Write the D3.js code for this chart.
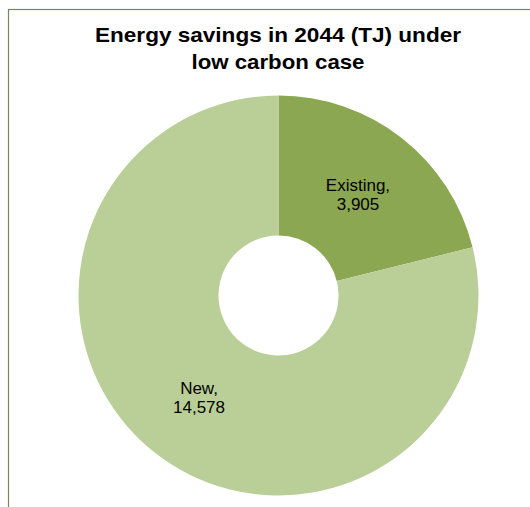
<!DOCTYPE html>
<html>
<head>
<meta charset="utf-8">
<script src="https://cdn.jsdelivr.net/npm/d3@7"></script>
<style>
  html, body { margin: 0; padding: 0; background: #fff; }
  svg { display: block; }
</style>
</head>
<body>
<svg id="chart" width="530" height="507"></svg>
<script>
// Energy savings in 2044 (TJ) under the low carbon case
const categories = ["Existing", "New"];
const values = [3905, 14578];
const colors = ["#8ca751", "#bacf97"];
const titleLines = ["Energy savings in 2044 (TJ) under", "low carbon case"];

const svg = d3.select("#chart");

// chart area frame
svg.append("rect")
  .attr("x", 8.5).attr("y", 9.5)
  .attr("width", 540).attr("height", 520)
  .attr("fill", "#fff")
  .attr("stroke", "#77875a")
  .attr("stroke-width", 1.2);

// title
const titleWidths = [366, 173];
const title = svg.append("text")
  .attr("text-anchor", "middle")
  .attr("font-family", "Liberation Sans, Arial, sans-serif")
  .attr("font-weight", "bold")
  .attr("font-size", 20.5)
  .attr("fill", "#000");
titleLines.forEach((t, i) => {
  title.append("tspan")
    .attr("x", 278)
    .attr("y", 42 + i * 26.5)
    .attr("textLength", titleWidths[i])
    .attr("lengthAdjust", "spacingAndGlyphs")
    .text(t);
});

const cx = 278.5, cy = 295.5, rOuter = 200, rInner = 60;
const g = svg.append("g").attr("transform", `translate(${cx},${cy})`);

const data = categories.map((c, i) => ({ name: c, value: values[i], color: colors[i] }));
const pie = d3.pie().value(d => d.value).sort(null);
const arc = d3.arc().innerRadius(rInner).outerRadius(rOuter);
const arcs = pie(data);

g.selectAll("path.slice")
  .data(arcs)
  .join("path")
  .attr("class", "slice")
  .attr("d", arc)
  .attr("fill", d => d.data.color);

// data labels: category name and value
const labelArc = d3.arc().innerRadius(129).outerRadius(129);
const fmt = d3.format(",");
const labels = g.selectAll("text.lbl")
  .data(arcs)
  .join("text")
  .attr("class", "lbl")
  .attr("text-anchor", "middle")
  .attr("font-family", "Liberation Sans, Arial, sans-serif")
  .attr("font-size", 17)
  .attr("fill", "#000")
  .attr("transform", d => {
    const [x, y] = labelArc.centroid(d);
    return `translate(${x},${y})`;
  });
labels.append("tspan").attr("x", 0).attr("y", -3).text(d => d.data.name + ",");
labels.append("tspan").attr("x", 0).attr("y", 16).text(d => fmt(d.data.value));
</script>
</body>
</html>
